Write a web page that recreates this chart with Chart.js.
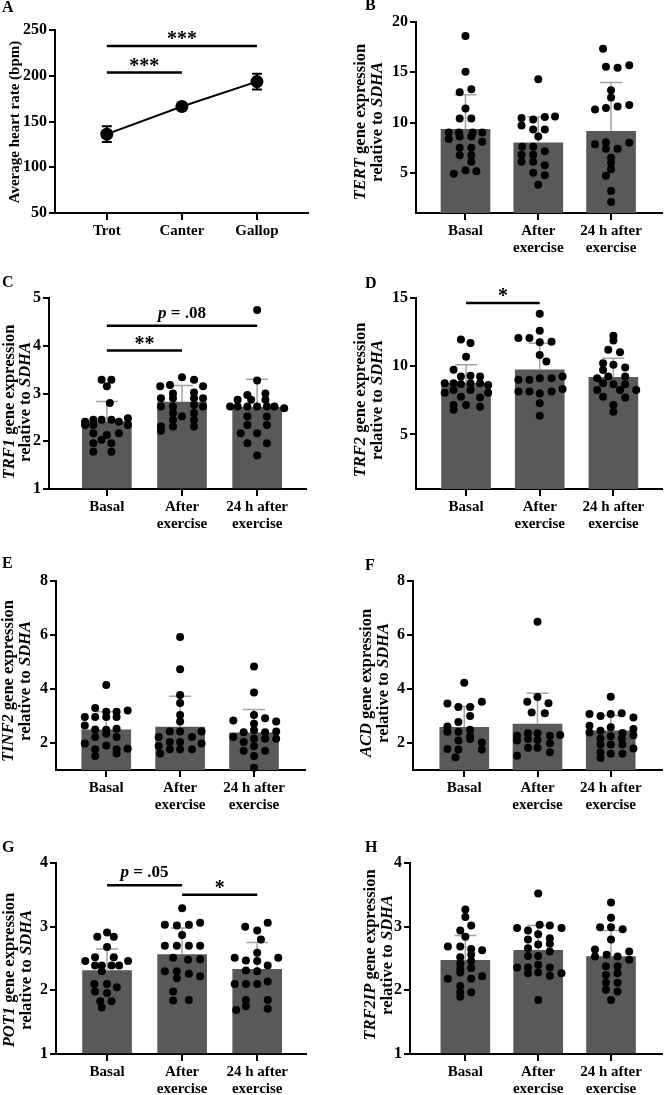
<!DOCTYPE html>
<html>
<head>
<meta charset="utf-8">
<script src="https://cdn.jsdelivr.net/npm/chart.js@4.4.1/dist/chart.umd.min.js"></script>
<style>
body { margin: 0; background: #fff; }
#wrap { position: relative; width: 666px; height: 1095px; overflow: hidden; }
canvas { position: absolute; }
</style>
</head>
<body>
<div id="wrap">
  <canvas id="cA" width="333" height="270" style="left:0;top:0"></canvas>
  <canvas id="cB" width="333" height="270" style="left:333px;top:0"></canvas>
  <canvas id="cC" width="333" height="270" style="left:0;top:270px"></canvas>
  <canvas id="cD" width="333" height="270" style="left:333px;top:270px"></canvas>
  <canvas id="cE" width="333" height="280" style="left:0;top:540px"></canvas>
  <canvas id="cF" width="333" height="280" style="left:333px;top:540px"></canvas>
  <canvas id="cG" width="333" height="275" style="left:0;top:820px"></canvas>
  <canvas id="cH" width="333" height="275" style="left:333px;top:820px"></canvas>
</div>
<script>
// --- data ---
const gaits = ['Trot', 'Canter', 'Gallop'];
const heartMean = [136.2, 166.4, 193.6];
const heartSd = [8.5, 4, 8.5];

const groups = ['Basal', ['After', 'exercise'], ['24 h after', 'exercise']];

// points are [offset from group centre (in group units), value]
const tertMean = [9.32, 7.97, 9.12];
const tertSd = [3.45, 2.57, 4.85];
const tertBasal = [[0,18.6],[0,15.05],[-0.08,13.0],[0.08,13.3],[0,11.4],[-0.08,10.4],[0.08,10.4],[-0.23,9.0],[-0.09,9.0],[0.1,9.0],[0.23,9.0],[-0.23,8.35],[-0.08,8.6],[0.08,8.6],[0.23,8.1],[-0.08,7.5],[0.08,7.5],[-0.08,6.75],[0.08,6.75],[0.08,6.1],[-0.16,4.9],[0,5.25],[0.15,5.15]];
const tertAfter = [[0,14.3],[-0.23,10.45],[-0.07,10.3],[0.09,10.55],[0.23,10.6],[-0.23,9.7],[-0.07,9.3],[0.09,9.3],[0,8.6],[-0.22,7.6],[-0.07,7.6],[0.09,7.15],[-0.23,6.8],[-0.07,6.8],[-0.23,6.1],[-0.07,6.1],[0.09,5.75],[-0.07,5.0],[0.09,4.75],[0,3.8]];
const tert24h = [[-0.11,17.35],[-0.07,15.55],[0.09,15.45],[0.25,15.7],[0,13.2],[0,12.5],[-0.22,11.3],[-0.07,11.45],[0.09,11.6],[0.25,11.75],[-0.22,7.85],[-0.07,8.05],[0.25,8.0],[-0.07,7.4],[0.09,7.4],[0,6.5],[0,6.0],[0,5.35],[-0.07,4.7],[0,3.2],[0,2.1]];

const trf1Mean = [2.41, 2.82, 2.71];
const trf1Sd = [0.42, 0.35, 0.59];
const trf1Basal = [[-0.07,3.29],[0.06,3.29],[0,3.15],[0.04,2.8],[-0.29,2.41],[-0.18,2.45],[-0.07,2.45],[0.06,2.45],[0.16,2.41],[0.28,2.48],[-0.29,2.34],[-0.18,2.34],[0.28,2.34],[-0.18,2.17],[0.16,2.17],[0,2.13],[-0.18,1.96],[-0.07,2.03],[0.06,1.96],[-0.18,1.78],[0.06,1.78]];
const trf1After = [[0,3.34],[-0.16,3.18],[0.16,3.29],[-0.29,3.15],[0.28,3.15],[-0.12,3.0],[0.16,3.02],[-0.28,2.9],[-0.12,2.9],[0.16,2.9],[0.28,2.9],[-0.28,2.73],[-0.12,2.73],[0.16,2.76],[0.28,2.73],[-0.12,2.59],[0.16,2.59],[-0.12,2.45],[0,2.52],[0.16,2.45],[-0.28,2.31],[-0.12,2.31],[0.16,2.31],[-0.28,2.22]];
const trf124h = [[0,4.75],[0,3.27],[-0.13,2.97],[0.11,3.0],[-0.26,2.87],[-0.08,2.87],[0.11,2.87],[-0.36,2.73],[-0.26,2.73],[-0.13,2.73],[0,2.73],[0.13,2.73],[0.23,2.73],[0.36,2.69],[-0.13,2.52],[0.13,2.52],[-0.13,2.34],[0.13,2.34],[-0.22,2.17],[0,2.17],[-0.13,1.96],[0.13,1.96],[0,1.7]];

const trf2Mean = [8.75, 9.73, 9.19];
const trf2Sd = [1.35, 1.96, 1.4];
const trf2Basal = [[-0.07,11.95],[0.06,11.7],[0,10.7],[-0.17,9.75],[-0.07,9.25],[0.06,9.3],[0.19,9.25],[-0.29,8.75],[-0.17,8.75],[-0.07,8.7],[0.06,8.75],[0.19,8.75],[0.3,8.63],[-0.29,8.06],[-0.17,8.26],[0.06,8.26],[0.3,8.06],[-0.07,7.77],[0.19,7.7],[-0.17,7.16],[0,7.16],[0.19,7.03],[-0.17,6.8]];
const trf2After = [[0,13.85],[0,12.6],[-0.29,12.06],[-0.14,12.06],[0,11.75],[0.16,11.8],[0,10.83],[0.09,10.34],[-0.29,9.0],[-0.14,9.0],[0,9.12],[0.16,9.12],[0.31,9.24],[-0.29,8.14],[-0.14,8.14],[0.16,8.14],[0.31,8.33],[0,8.0],[0,7.28],[0,6.37]];
const trf224h = [[0,12.23],[0,11.89],[-0.07,11.2],[0.09,11.03],[-0.14,10.22],[0,10.1],[0.16,9.9],[-0.14,9.73],[-0.22,9.12],[-0.07,9.24],[0.16,9.24],[-0.14,8.75],[0,8.68],[0.16,8.68],[-0.22,8.26],[0.09,8.26],[0.31,8.26],[-0.14,7.77],[0.16,7.7],[0,7.16],[0,6.67]];

const tinf2Mean = [2.49, 2.59, 2.38];
const tinf2Sd = [0.67, 1.14, 0.86];
const tinf2Basal = [[0,4.15],[-0.15,3.3],[0,3.16],[0.14,3.16],[0.29,3.2],[-0.29,2.96],[-0.15,2.96],[0,2.96],[0.14,2.96],[-0.29,2.65],[-0.15,2.5],[0,2.49],[0.14,2.53],[0,2.34],[0.14,2.22],[-0.15,2.22],[-0.29,1.98],[0,1.91],[-0.15,1.77],[0.14,1.77],[0.29,1.79],[-0.15,1.52],[0.14,1.61]];
const tinf2After = [[0,5.93],[0,4.73],[0,3.78],[0,3.48],[0,3.04],[0,2.8],[-0.14,2.43],[0.29,2.43],[-0.29,2.22],[0.16,2.22],[0,2.04],[-0.14,2.04],[0.29,1.98],[-0.29,1.89],[-0.14,1.77],[0,1.77],[0.16,1.77],[-0.27,1.61],[0,2.43]];
const tinf224h = [[0,4.83],[0,3.87],[0,3.04],[-0.28,2.83],[0.15,2.92],[0.3,2.8],[0,2.71],[-0.14,2.4],[0,2.47],[0.15,2.4],[0.3,2.43],[-0.28,2.22],[-0.14,2.04],[0,2.16],[0.15,2.16],[0.3,2.16],[-0.14,1.71],[0,1.88],[0.15,1.71],[0,1.52],[0,1.08]];

const acdMean = [2.58, 2.7, 2.45];
const acdSd = [0.77, 1.14, 0.57];
const acdBasal = [[0,4.23],[-0.23,3.46],[0.24,3.53],[-0.08,3.33],[0.08,3.33],[0.08,3.0],[-0.08,2.78],[-0.23,2.61],[-0.23,2.42],[-0.08,2.42],[0.08,2.49],[0.08,2.25],[-0.08,2.09],[0.08,2.15],[0.24,2.02],[-0.23,1.78],[-0.08,1.76],[0.24,1.76],[-0.12,1.47]];
const acdAfter = [[0,6.49],[0,3.7],[-0.14,3.53],[0.15,3.47],[-0.08,3.13],[0.1,3.1],[-0.28,2.27],[-0.13,2.36],[0,2.36],[0.17,2.27],[0.31,2.3],[-0.13,2.15],[0,2.11],[-0.28,2.09],[0.17,1.99],[-0.13,1.82],[0,1.82],[-0.28,1.53],[0.17,1.66]];
const acd24h = [[0,3.71],[-0.29,3.07],[-0.14,3.0],[0,3.07],[0.15,3.1],[0.31,2.94],[-0.29,2.64],[0,2.58],[-0.29,2.39],[-0.14,2.45],[0.16,2.37],[0.31,2.52],[0.31,2.29],[-0.14,2.17],[0,2.25],[0.15,2.17],[-0.14,1.94],[0,1.94],[0.16,1.94],[0.31,1.8],[-0.14,1.66],[0,1.6],[0.16,1.6],[-0.14,1.44]];

const pot1Mean = [2.31, 2.56, 2.33];
const pot1Sd = [0.34, 0.42, 0.42];
const pot1Basal = [[0,2.91],[-0.13,2.84],[0.09,2.84],[0,2.68],[-0.16,2.52],[0.09,2.52],[-0.29,2.46],[0.28,2.46],[-0.16,2.39],[-0.07,2.39],[0.06,2.39],[0.16,2.39],[-0.07,2.3],[-0.17,2.1],[0,2.1],[0.13,2.05],[-0.16,1.98],[0,1.96],[-0.09,1.83],[0.06,1.83],[-0.07,1.73]];
const pot1After = [[0,3.29],[-0.23,3.03],[-0.07,3.02],[0.09,3.03],[0.24,3.06],[0,2.87],[-0.23,2.7],[-0.07,2.7],[0.09,2.7],[0.24,2.7],[-0.12,2.51],[0.08,2.48],[0.24,2.49],[-0.23,2.3],[-0.07,2.3],[0.09,2.26],[-0.07,2.19],[0.24,2.22],[-0.12,1.98],[-0.12,1.84],[0.09,1.85]];
const pot124h = [[-0.16,3.0],[0.14,3.06],[0,2.94],[0.05,2.8],[0,2.59],[-0.3,2.51],[0.28,2.51],[-0.15,2.47],[0,2.46],[-0.15,2.31],[0,2.3],[0.14,2.39],[-0.3,2.1],[-0.15,2.1],[0,2.1],[0.14,2.14],[-0.15,1.85],[0.14,1.85],[-0.15,1.75],[0.14,1.71],[-0.28,1.69]];

const trf2ipMean = [2.47, 2.63, 2.53];
const trf2ipSd = [0.39, 0.39, 0.41];
const trf2ipBasal = [[0,3.27],[0,3.15],[-0.07,2.94],[0.08,3.02],[0,2.84],[-0.24,2.69],[-0.07,2.69],[0.23,2.63],[0.08,2.65],[-0.07,2.52],[0.08,2.56],[-0.07,2.42],[0.08,2.46],[-0.07,2.34],[0.08,2.35],[-0.24,2.18],[-0.07,2.28],[0.23,2.22],[-0.07,2.07],[0.08,2.18],[-0.07,1.97],[0.08,1.97],[-0.07,1.9]];
const trf2ipAfter = [[0,3.52],[-0.29,2.98],[-0.14,2.94],[0.02,3.03],[0.16,3.02],[0.32,2.98],[-0.14,2.8],[0,2.88],[0.16,2.82],[0,2.72],[-0.14,2.66],[0.16,2.73],[-0.14,2.54],[0,2.54],[0.16,2.61],[-0.29,2.36],[-0.14,2.36],[0,2.4],[0.16,2.36],[0.32,2.27],[-0.14,2.27],[0,2.28],[0.16,2.23],[0,1.85]];
const trf2ip24h = [[0,3.38],[0,3.14],[-0.15,2.99],[0,2.99],[0.16,2.96],[0,2.8],[-0.22,2.64],[0.25,2.61],[-0.22,2.53],[-0.06,2.56],[0.09,2.53],[0.25,2.48],[-0.07,2.38],[0.09,2.38],[-0.07,2.24],[0.09,2.27],[-0.07,2.12],[0.09,2.12],[-0.07,2.01],[0.09,1.98],[0,1.85]];

// significance brackets: [from group, to group, height, label]
const sigA = [[0, 2, 232.5, '***'], [0, 1, 203.5, '***']];
const sigC = [[0, 1, 3.9, '**'], [0, 2, 4.42, 'p = .08']];
const sigD = [[0, 1, 14.63, '*']];
const sigG = [[0, 1, 3.65, 'p = .05'], [1, 2, 3.5, '*']];

const SERIF = "'Liberation Serif', 'Times New Roman', serif";
const BAR = '#595959';
const ERR = '#a3a3a3';

function fontStr(size, italic) {
    return (italic ? 'italic ' : '') + 'bold ' + size + 'px ' + SERIF;
}

// draw mixed italic / upright text, rotated or not
function drawRich(c, parts, x, y, size, rotate) {
    c.save();
    c.translate(x, y);
    if (rotate) c.rotate(-Math.PI / 2);
    let w = 0;
    parts.forEach(p => { c.font = fontStr(size, p.i); w += c.measureText(p.t).width; });
    let cx = -w / 2;
    c.textAlign = 'left';
    c.textBaseline = 'alphabetic';
    c.fillStyle = '#000';
    parts.forEach(p => {
        c.font = fontStr(size, p.i);
        c.fillText(p.t, cx, 0);
        cx += c.measureText(p.t).width;
    });
    c.restore();
}

const panels = [
    { id: 'cA', letter: 'A', letterPos: [2, 12], kind: 'line', labels: gaits, mean: heartMean, sd: heartSd,
      yMin: 50, yMax: 250, yTicks: [50, 100, 150, 200, 250], xMin: -0.69, xMax: 2.68,
      area: { left: 55, top: 30, bottom: 213, right: 308 },
      title: [[{ t: 'Average heart rate (bpm)' }]], titleSize: 15, titleX: [19], titleY: 122, sig: sigA },
    { id: 'cB', letter: 'B', letterPos: [32, 10], gene: 'TERT', labels: groups, mean: tertMean, sd: tertSd,
      points: [tertBasal, tertAfter, tert24h],
      yMin: 1, yMax: 20, yTicks: [5, 10, 15, 20], xMin: -0.68, xMax: 2.7,
      area: { left: 83, top: 22, bottom: 213, right: 333 }, titleX: [32, 49], titleY: 122, sig: [] },
    { id: 'cC', letter: 'C', letterPos: [2, 17], gene: 'TRF1', labels: groups, mean: trf1Mean, sd: trf1Sd,
      points: [trf1Basal, trf1After, trf124h],
      yMin: 1, yMax: 5, yTicks: [1, 2, 3, 4, 5], xMin: -0.77, xMax: 2.65,
      area: { left: 49, top: 28, bottom: 219, right: 306 }, titleX: [14, 30], titleY: 132, sig: sigC },
    { id: 'cD', letter: 'D', letterPos: [32, 18], gene: 'TRF2', labels: groups, mean: trf2Mean, sd: trf2Sd,
      points: [trf2Basal, trf2After, trf224h],
      yMin: 1, yMax: 15, yTicks: [5, 10, 15], xMin: -0.68, xMax: 2.66,
      area: { left: 83, top: 28, bottom: 219, right: 330 }, titleX: [32, 49], titleY: 130, sig: sigD },
    { id: 'cE', letter: 'E', letterPos: [2, 28], gene: 'TINF2', labels: groups, mean: tinf2Mean, sd: tinf2Sd,
      points: [tinf2Basal, tinf2After, tinf224h],
      yMin: 1, yMax: 8, yTicks: [2, 4, 6, 8], xMin: -0.68, xMax: 2.69,
      area: { left: 56, top: 41, bottom: 230, right: 305 }, titleX: [13, 30], titleY: 141, sig: [] },
    { id: 'cF', letter: 'F', letterPos: [32, 30], gene: 'ACD', labels: groups, mean: acdMean, sd: acdSd,
      points: [acdBasal, acdAfter, acd24h],
      yMin: 1, yMax: 8, yTicks: [2, 4, 6, 8], xMin: -0.7, xMax: 2.7,
      area: { left: 80, top: 41, bottom: 230, right: 333 }, titleX: [38, 55], titleY: 143, sig: [] },
    { id: 'cG', letter: 'G', letterPos: [2, 32], gene: 'POT1', labels: groups, mean: pot1Mean, sd: pot1Sd,
      points: [pot1Basal, pot1After, pot124h],
      yMin: 1, yMax: 4, yTicks: [1, 2, 3, 4], xMin: -0.68, xMax: 2.65,
      area: { left: 56, top: 43, bottom: 234, right: 306 }, titleX: [14, 31], titleY: 150, sig: sigG },
    { id: 'cH', letter: 'H', letterPos: [32, 32], gene: 'TRF2IP', labels: groups, mean: trf2ipMean, sd: trf2ipSd,
      points: [trf2ipBasal, trf2ipAfter, trf2ip24h],
      yMin: 1, yMax: 4, yTicks: [1, 2, 3, 4], xMin: -0.76, xMax: 2.7,
      area: { left: 77, top: 43, bottom: 234, right: 333 }, titleX: [42, 59], titleY: 135, sig: [] }
];

function makePanel(p) {
    const canvas = document.getElementById(p.id);
    const W = canvas.width, H = canvas.height;
    const isLine = p.kind === 'line';
    const datasets = [];

    if (isLine) {
        datasets.push({
            type: 'line',
            data: p.mean.map((m, i) => ({ x: i, y: m })),
            borderColor: '#000', borderWidth: 2,
            pointRadius: 5.5, pointBackgroundColor: '#000', pointBorderColor: '#000',
            clip: false
        });
    } else {
        datasets.push({
            type: 'bar',
            data: p.mean.map((m, i) => ({ x: i, y: m })),
            backgroundColor: BAR, barThickness: 49, base: p.yMin,
            order: 2, clip: 0
        });
        datasets.push({
            type: 'scatter',
            data: p.points.flatMap((g, i) => g.map(([dx, v]) => ({ x: i + dx, y: v }))),
            pointRadius: 4, backgroundColor: '#000', borderColor: '#000', borderWidth: 0,
            order: 1, clip: false
        });
    }

    const xFont = { family: SERIF, weight: 'bold', size: 15, lineHeight: 1.12 };
    const yFont = { family: SERIF, weight: 'bold', size: 16 };

    const deco = {
        id: 'deco',
        afterDatasetDraw(chart, args) {
            if (args.index !== 0) return;
            const c = chart.ctx, xs = chart.scales.x, ys = chart.scales.y;
            c.save();
            c.strokeStyle = isLine ? '#000' : ERR;
            c.lineWidth = isLine ? 2 : 1.5;
            const cap = isLine ? 5 : 11;
            p.mean.forEach((m, i) => {
                const px = xs.getPixelForValue(i);
                const top = ys.getPixelForValue(m + p.sd[i]);
                const bot = ys.getPixelForValue(isLine ? m - p.sd[i] : m);
                c.beginPath();
                c.moveTo(px, bot); c.lineTo(px, top);
                c.moveTo(px - cap, top); c.lineTo(px + cap, top);
                if (isLine) { c.moveTo(px - cap, bot); c.lineTo(px + cap, bot); }
                c.stroke();
            });
            c.restore();
        },
        afterDraw(chart) {
            const c = chart.ctx, xs = chart.scales.x, ys = chart.scales.y;
            // panel letter
            c.save();
            c.fillStyle = '#000';
            c.font = fontStr(16, false);
            c.textAlign = 'left';
            c.textBaseline = 'alphabetic';
            c.fillText(p.letter, p.letterPos[0], p.letterPos[1]);
            c.restore();
            // y-axis title
            const lines = p.title || [
                [{ t: p.gene, i: true }, { t: ' gene expression' }],
                [{ t: 'relative to ' }, { t: 'SDHA', i: true }]
            ];
            lines.forEach((parts, k) => drawRich(c, parts, p.titleX[k], p.titleY, p.titleSize || 16.5, true));
            // significance brackets
            p.sig.forEach(([a, b, v, label]) => {
                const x1 = xs.getPixelForValue(a), x2 = xs.getPixelForValue(b);
                const y = ys.getPixelForValue(v);
                c.save();
                c.strokeStyle = '#000';
                c.lineWidth = 2.5;
                c.beginPath(); c.moveTo(x1, y); c.lineTo(x2, y); c.stroke();
                c.restore();
                if (label.startsWith('p')) {
                    drawRich(c, [{ t: 'p', i: true }, { t: label.slice(1) }], (x1 + x2) / 2, y - 8, 17, false);
                } else {
                    c.save();
                    c.fillStyle = '#000';
                    c.font = fontStr(20, false);
                    c.textAlign = 'center';
                    c.textBaseline = 'alphabetic';
                    c.fillText(label, (x1 + x2) / 2, y - 1);
                    c.restore();
                }
            });
        }
    };

    new Chart(canvas, {
        type: isLine ? 'line' : 'bar',
        data: { datasets },
        options: {
            responsive: false,
            animation: false,
            devicePixelRatio: 1,
            layout: { padding: { top: p.area.top, right: W - p.area.right, left: 0, bottom: 0 } },
            plugins: { legend: { display: false }, tooltip: { enabled: false } },
            scales: {
                x: {
                    type: 'linear', min: p.xMin, max: p.xMax, offset: false,
                    afterBuildTicks: s => { s.ticks = p.labels.map((_, i) => ({ value: i })); },
                    afterFit: s => { s.height = H - p.area.bottom; },
                    ticks: {
                        callback: v => p.labels[v],
                        font: xFont, color: '#000', padding: 3,
                        maxRotation: 0, autoSkip: false
                    },
                    grid: { display: true, offset: false, drawOnChartArea: false, drawTicks: true, tickLength: 7, color: '#000', lineWidth: 2 },
                    border: { display: true, color: '#000', width: 2 }
                },
                y: {
                    type: 'linear', min: p.yMin, max: p.yMax,
                    afterBuildTicks: s => { s.ticks = p.yTicks.map(v => ({ value: v })); },
                    afterFit: s => { s.width = p.area.left; },
                    ticks: { font: yFont, color: '#000', padding: 2 },
                    grid: { display: true, drawOnChartArea: false, drawTicks: true, tickLength: 6, color: '#000', lineWidth: 2 },
                    border: { display: true, color: '#000', width: 2 }
                }
            }
        },
        plugins: [deco]
    });
}

panels.forEach(makePanel);
</script>
</body>
</html>
